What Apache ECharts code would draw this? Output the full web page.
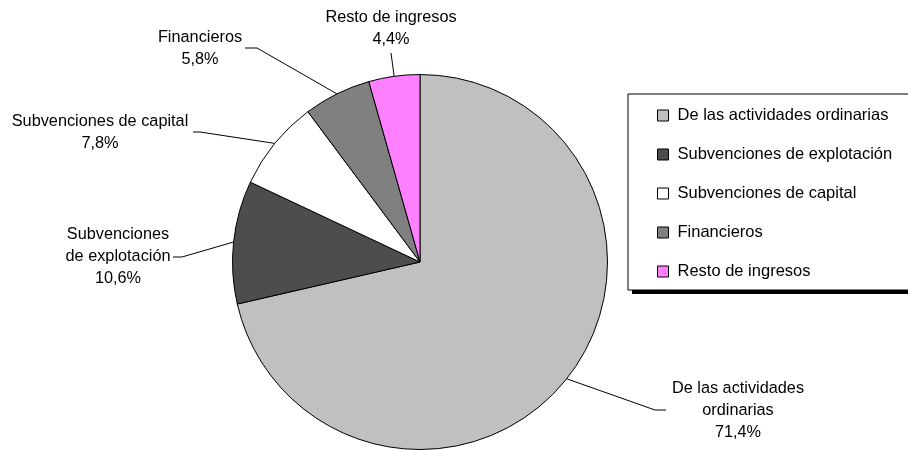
<!DOCTYPE html>
<html>
<head>
<meta charset="utf-8">
<script src="https://cdn.jsdelivr.net/npm/echarts@6/dist/echarts.min.js"></script>
<style>
  html, body { margin: 0; padding: 0; background: #fff; }
  #chart { width: 908px; height: 450px; }
</style>
</head>
<body>
<div id="chart"></div>
<script>
// ---- data ----
var categories = [
  'De las actividades ordinarias',
  'Subvenciones de explotación',
  'Subvenciones de capital',
  'Financieros',
  'Resto de ingresos'
];
var labelNames = [
  'De las actividades\nordinarias',
  'Subvenciones\nde explotación',
  'Subvenciones de capital',
  'Financieros',
  'Resto de ingresos'
];
var values = [71.4, 10.6, 7.8, 5.8, 4.4];

// ---- styling / layout config ----
var colors = ['#C0C0C0', '#4D4D4D', '#FFFFFF', '#808080', '#FF80FF'];
var FONT = '"Liberation Sans", Arial, sans-serif';
// leader-line bend/end and label centre for each slice annotation
var labelPlacement = [
  { bend: [655, 410], end: [666, 410], text: [738, 411] },
  { bend: [182, 257], end: [173, 257], text: [118, 257] },
  { bend: [200, 132], end: [193, 132], text: [100, 133] },
  { bend: [257, 48],  end: [245, 48],  text: [200, 49] },
  { bend: [391, 53],  end: [391, 53],  text: [391, 29] }
];

var chart = echarts.init(document.getElementById('chart'), null, { renderer: 'canvas' });

var data = categories.map(function (c, i) {
  return { name: c, value: values[i], itemStyle: { color: colors[i] } };
});

chart.setOption({
  animation: false,
  backgroundColor: '#fff',
  graphic: [{
    type: 'rect',
    z: 1,
    silent: true,
    shape: { x: 632, y: 98, width: 300, height: 196 },
    style: { fill: '#000' }
  }],
  legend: {
    orient: 'vertical',
    left: 628,
    top: 94,
    z: 5,
    padding: [13, 300, 10, 29],
    itemGap: 22,
    itemWidth: 11,
    itemHeight: 11,
    icon: 'rect',
    itemStyle: { borderColor: '#000', borderWidth: 1 },
    backgroundColor: '#fff',
    borderColor: '#000',
    borderWidth: 1,
    borderRadius: 0,
    selectedMode: false,
    textStyle: { fontFamily: FONT, fontSize: 16.5, color: '#000', lineHeight: 17, padding: [0, 0, 0, 4] },
    data: categories
  },
  series: [{
    type: 'pie',
    center: [420, 262],
    radius: 187.5,
    startAngle: 90,
    clockwise: true,
    avoidLabelOverlap: false,
    emphasis: { disabled: true },
    itemStyle: { borderColor: '#000', borderWidth: 1 },
    label: {
      show: true,
      position: 'outside',
      fontFamily: FONT,
      fontSize: 16.3,
      lineHeight: 22,
      color: '#000',
      formatter: function (p) {
        return labelNames[p.dataIndex] + '\n' + p.percent.toFixed(1).replace('.', ',') + '%';
      }
    },
    labelLine: {
      show: true,
      length: 20,
      length2: 10,
      lineStyle: { color: '#000', width: 1 }
    },
    labelLayout: function (params) {
      var pl = labelPlacement[params.dataIndex];
      var start = params.labelLinePoints ? params.labelLinePoints[0] : pl.bend;
      return {
        x: pl.text[0],
        y: pl.text[1],
        align: 'center',
        verticalAlign: 'middle',
        labelLinePoints: [start.slice(), pl.bend.slice(), pl.end.slice()]
      };
    },
    data: data
  }]
});
</script>
</body>
</html>
